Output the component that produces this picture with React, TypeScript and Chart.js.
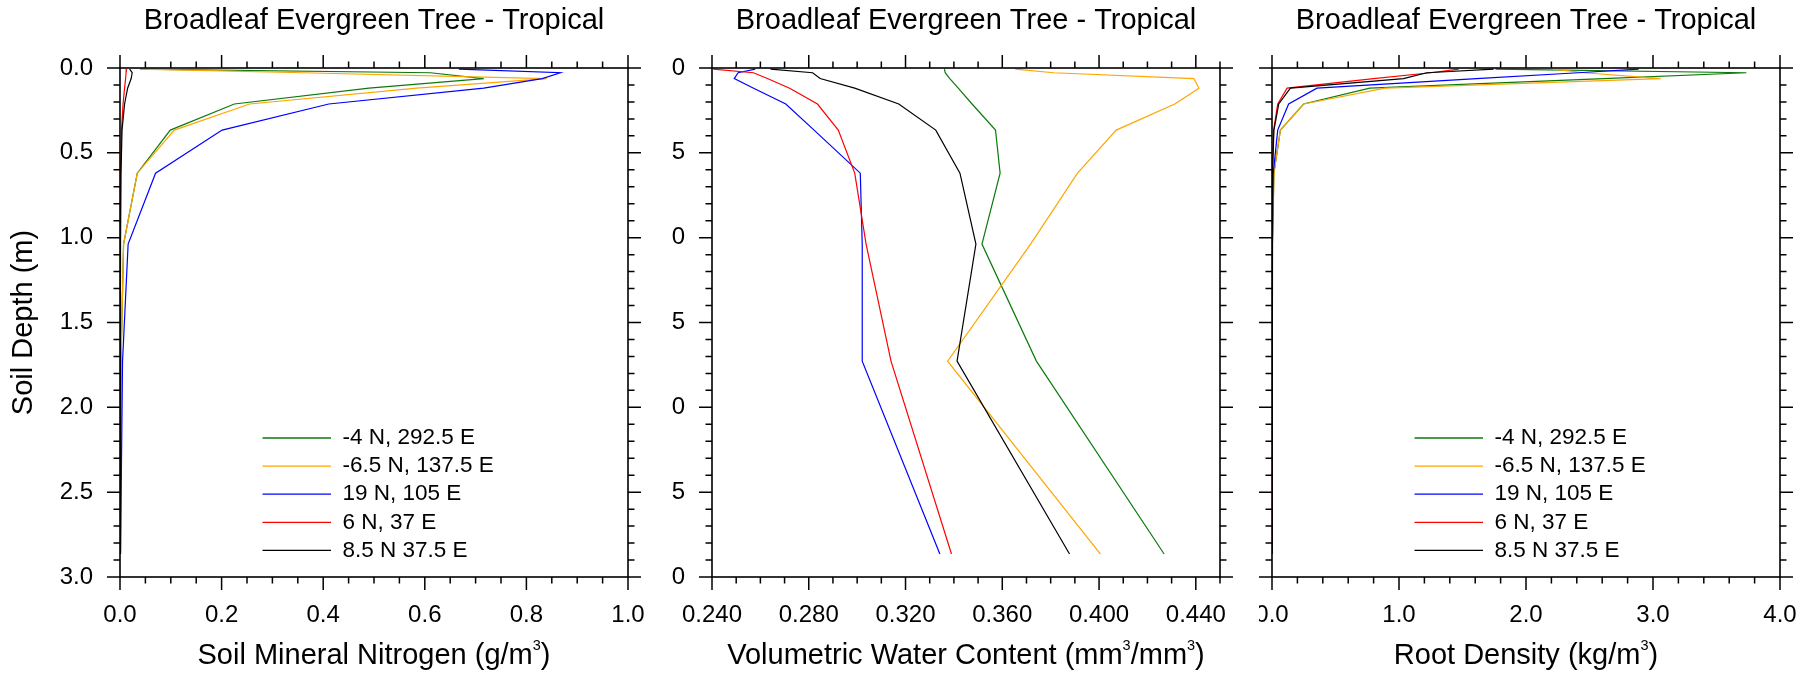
import React, { useEffect, useRef } from "react";
import { Chart, registerables } from "chart.js";

Chart.register(...registerables);

// ---------- data ----------
const depths = [0.0071, 0.0279, 0.0623, 0.1189, 0.2122, 0.3661, 0.6198, 1.038, 1.7276, 2.8646];

const siteLabels = ["-4 N, 292.5 E", "-6.5 N, 137.5 E", "19 N, 105 E", "6 N, 37 E", "8.5 N 37.5 E"];
const siteColors = ["#0b7a0b", "#ffa500", "#0000ff", "#ff0000", "#000000"];

const depthTickLabels = ["0.0", "0.5", "1.0", "1.5", "2.0", "2.5", "3.0"];
const nitrogenTickLabels = ["0.0", "0.2", "0.4", "0.6", "0.8", "1.0"];
const waterTickLabels = ["0.240", "0.280", "0.320", "0.360", "0.400", "0.440"];
const rootTickLabels = ["0.0", "1.0", "2.0", "3.0", "4.0"];

// Soil mineral nitrogen (g/m3)
const nitrogenSite1 = [0.040, 0.611, 0.716, 0.490, 0.225, 0.099, 0.034, 0.007, 0.002, 0.001];
const nitrogenSite2 = [0.040, 0.360, 0.840, 0.584, 0.255, 0.107, 0.034, 0.007, 0.002, 0.001];
const nitrogenSite3 = [0.667, 0.867, 0.831, 0.716, 0.411, 0.201, 0.070, 0.016, 0.005, 0.001];
const nitrogenSite4 = [0.013, 0.012, 0.011, 0.009, 0.006, 0.003, 0.001, 0.0005, 0.0003, 0.0002];
const nitrogenSite5 = [0.019, 0.024, 0.022, 0.015, 0.009, 0.004, 0.002, 0.001, 0.0005, 0.0003];

// Volumetric water content (mm3/mm3)
const waterSite1 = [0.3361, 0.3364, 0.3383, 0.3418, 0.3475, 0.3572, 0.3591, 0.3516, 0.3741, 0.4269];
const waterSite2 = [0.3654, 0.3812, 0.4392, 0.4413, 0.4313, 0.4071, 0.3911, 0.3717, 0.3374, 0.4006];
const waterSite3 = [0.2579, 0.2508, 0.2492, 0.2572, 0.2705, 0.2822, 0.3013, 0.3021, 0.3021, 0.3342];
const waterSite4 = [0.2405, 0.2571, 0.2629, 0.2721, 0.2836, 0.2922, 0.2990, 0.3037, 0.3140, 0.3390];
const waterSite5 = [0.2642, 0.2816, 0.2847, 0.2990, 0.3172, 0.3325, 0.3425, 0.3491, 0.3413, 0.3878];

// Root density (kg/m3)
const rootSite1 = [1.76, 3.735, 2.61, 0.77, 0.249, 0.066, 0.015, 0.004, 0.001, 0.0002];
const rootSite2 = [2.21, 2.46, 3.06, 0.891, 0.249, 0.066, 0.015, 0.004, 0.001, 0.0002];
const rootSite3 = [2.887, 2.41, 1.61, 0.354, 0.131, 0.045, 0.010, 0.003, 0.001, 0.0002];
const rootSite4 = [1.47, 1.25, 0.80, 0.119, 0.045, 0.013, 0.003, 0.001, 0.0003, 0.0001];
const rootSite5 = [1.745, 1.219, 1.035, 0.145, 0.053, 0.015, 0.004, 0.001, 0.0003, 0.0001];

const panelTitle = "Broadleaf Evergreen Tree - Tropical";
const depthTitle = "Soil Depth (m)";

// ---------- layout ----------
const FONT = '"Liberation Sans", Arial, Helvetica, sans-serif';
const W = 1810;
const H = 674;
const PLOT_TOP = 68;
const PLOT_BOTTOM = 577;
const MAJOR_LEN = 13;
const MINOR_LEN = 6.5;

type Seg = { t: string; sup?: boolean };

interface Panel {
  canvasLeft: number;
  canvasWidth: number;
  plotLeft: number;
  plotRight: number;
  xMin: number;
  xMax: number;
  xTickLabels: string[];
  xMinorStep: number;
  series: number[][];
  xTitle: Seg[];
  legend: boolean;
  yLabels: boolean;
  yTitle: boolean;
}

const panels: Panel[] = [
  {
    canvasLeft: 0,
    canvasWidth: 670,
    plotLeft: 120,
    plotRight: 628,
    xMin: 0,
    xMax: 1,
    xTickLabels: nitrogenTickLabels,
    xMinorStep: 0.05,
    series: [nitrogenSite1, nitrogenSite2, nitrogenSite3, nitrogenSite4, nitrogenSite5],
    xTitle: [{ t: "Soil Mineral Nitrogen (g/m" }, { t: "3", sup: true }, { t: ")" }],
    legend: true,
    yLabels: true,
    yTitle: true,
  },
  {
    canvasLeft: 670,
    canvasWidth: 589,
    plotLeft: 712,
    plotRight: 1220,
    xMin: 0.24,
    xMax: 0.45,
    xTickLabels: waterTickLabels,
    xMinorStep: 0.01,
    series: [waterSite1, waterSite2, waterSite3, waterSite4, waterSite5],
    xTitle: [
      { t: "Volumetric Water Content (mm" },
      { t: "3", sup: true },
      { t: "/mm" },
      { t: "3", sup: true },
      { t: ")" },
    ],
    legend: false,
    yLabels: true,
    yTitle: false,
  },
  {
    canvasLeft: 1259,
    canvasWidth: 551,
    plotLeft: 1272,
    plotRight: 1780,
    xMin: 0,
    xMax: 4,
    xTickLabels: rootTickLabels,
    xMinorStep: 0.2,
    series: [rootSite1, rootSite2, rootSite3, rootSite4, rootSite5],
    xTitle: [{ t: "Root Density (kg/m" }, { t: "3", sup: true }, { t: ")" }],
    legend: true,
    yLabels: false,
    yTitle: false,
  },
];

function drawRich(ctx: CanvasRenderingContext2D, segs: Seg[], cx: number, cy: number, size: number) {
  const supSize = size * 0.5;
  let total = 0;
  const widths: number[] = [];
  for (const s of segs) {
    ctx.font = `${s.sup ? supSize : size}px ${FONT}`;
    const w = ctx.measureText(s.t).width;
    widths.push(w);
    total += w;
  }
  let x = cx - total / 2;
  ctx.textAlign = "left";
  ctx.textBaseline = "middle";
  segs.forEach((s, i) => {
    ctx.font = `${s.sup ? supSize : size}px ${FONT}`;
    ctx.fillText(s.t, x, s.sup ? cy - size * 0.34 : cy);
    x += widths[i];
  });
}

function ticksBetween(min: number, max: number, step: number, majors: number[]): number[] {
  const out: number[] = [];
  const n = Math.round((max - min) / step);
  for (let k = 0; k <= n; k++) {
    const v = Math.round((min + k * step) * 100000) / 100000;
    if (!majors.some((m) => Math.abs(m - v) < step / 10)) out.push(v);
  }
  return out;
}

function makeAxesPlugin(p: Panel) {
  return {
    id: "nclAxes",
    afterDatasetsDraw(chart: any) {
      const ctx: CanvasRenderingContext2D = chart.ctx;
      const { left, right, top, bottom } = chart.chartArea;
      const xs = chart.scales.x;
      const ys = chart.scales.y;
      ctx.save();
      ctx.strokeStyle = "#000";
      ctx.fillStyle = "#000";
      ctx.lineWidth = 1.6;
      ctx.strokeRect(left, top, right - left, bottom - top);

      const xMajors = p.xTickLabels.map((s) => parseFloat(s));
      const xMinors = ticksBetween(p.xMin, p.xMax, p.xMinorStep, xMajors);
      const yMajors = depthTickLabels.map((s) => parseFloat(s));
      const yMinors = ticksBetween(0, 3, 0.1, yMajors);

      ctx.lineWidth = 1.5;
      ctx.beginPath();
      const xt = (v: number, len: number) => {
        const px = xs.getPixelForValue(v);
        ctx.moveTo(px, bottom);
        ctx.lineTo(px, bottom + len);
        ctx.moveTo(px, top);
        ctx.lineTo(px, top - len);
      };
      const yt = (v: number, len: number) => {
        const py = ys.getPixelForValue(v);
        ctx.moveTo(left, py);
        ctx.lineTo(left - len, py);
        ctx.moveTo(right, py);
        ctx.lineTo(right + len, py);
      };
      xMajors.forEach((v) => xt(v, MAJOR_LEN));
      xMinors.forEach((v) => xt(v, MINOR_LEN));
      yMajors.forEach((v) => yt(v, MAJOR_LEN));
      yMinors.forEach((v) => yt(v, MINOR_LEN));
      ctx.stroke();

      // tick labels
      ctx.font = `24px ${FONT}`;
      ctx.textAlign = "center";
      ctx.textBaseline = "middle";
      p.xTickLabels.forEach((lab, i) => {
        ctx.fillText(lab, xs.getPixelForValue(xMajors[i]), 615);
      });
      if (p.yLabels) {
        ctx.textAlign = "right";
        depthTickLabels.forEach((lab, i) => {
          ctx.fillText(lab, left - 27, ys.getPixelForValue(yMajors[i]));
        });
      }

      // x axis title
      drawRich(ctx, p.xTitle, (left + right) / 2, 656, 29);

      // panel title
      ctx.font = `29px ${FONT}`;
      ctx.textAlign = "center";
      ctx.textBaseline = "middle";
      ctx.fillText(panelTitle, (left + right) / 2, 21);

      // y axis title
      if (p.yTitle) {
        ctx.save();
        ctx.translate(24, (top + bottom) / 2);
        ctx.rotate(-Math.PI / 2);
        ctx.font = `29px ${FONT}`;
        ctx.textAlign = "center";
        ctx.textBaseline = "middle";
        ctx.fillText(depthTitle, 0, 0);
        ctx.restore();
      }

      // legend
      if (p.legend) {
        ctx.font = `22.5px ${FONT}`;
        ctx.textAlign = "left";
        ctx.textBaseline = "middle";
        siteLabels.forEach((lab, i) => {
          const y = 438 + i * 28.1;
          ctx.strokeStyle = siteColors[i];
          ctx.lineWidth = 1.3;
          ctx.beginPath();
          ctx.moveTo(left + 142.5, y);
          ctx.lineTo(left + 211, y);
          ctx.stroke();
          ctx.fillStyle = "#000";
          ctx.fillText(lab, left + 222.5, y);
        });
      }
      ctx.restore();
    },
  };
}

function PanelChart({ p }: { p: Panel }) {
  const ref = useRef<HTMLCanvasElement | null>(null);
  useEffect(() => {
    const canvas = ref.current;
    if (!canvas) return;
    const chart = new Chart(canvas, {
      type: "scatter",
      data: {
        datasets: p.series.map((vals, i) => ({
          label: siteLabels[i],
          data: depths.map((d, k) => ({ x: vals[k], y: d })),
          showLine: true,
          borderColor: siteColors[i],
          backgroundColor: siteColors[i],
          borderWidth: 1.2,
          pointRadius: 0,
          pointHoverRadius: 0,
          tension: 0,
          fill: false,
          order: p.series.length - i,
        })),
      },
      options: {
        responsive: false,
        maintainAspectRatio: false,
        animation: false,
        events: [],
        layout: {
          padding: {
            left: p.plotLeft - p.canvasLeft,
            right: p.canvasLeft + p.canvasWidth - p.plotRight,
            top: PLOT_TOP,
            bottom: H - PLOT_BOTTOM,
          },
        },
        scales: {
          x: { type: "linear", min: p.xMin, max: p.xMax, display: false },
          y: { type: "linear", min: 0, max: 3, reverse: true, display: false },
        },
        plugins: {
          legend: { display: false },
          tooltip: { enabled: false },
          title: { display: false },
        },
      },
      plugins: [makeAxesPlugin(p)],
    } as any);
    return () => chart.destroy();
  }, [p]);
  return (
    <canvas
      ref={ref}
      width={p.canvasWidth}
      height={H}
      style={{ position: "absolute", left: p.canvasLeft, top: 0, width: p.canvasWidth, height: H }}
    />
  );
}

export default function App() {
  return (
    <div
      style={{
        position: "absolute",
        left: 0,
        top: 0,
        width: W,
        height: H,
        background: "#fff",
        overflow: "hidden",
      }}
    >
      {panels.map((p, i) => (
        <PanelChart key={i} p={p} />
      ))}
    </div>
  );
}
